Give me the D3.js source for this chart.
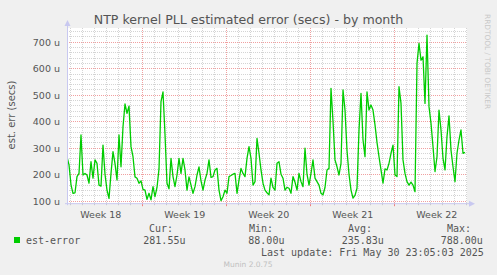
<!DOCTYPE html>
<html><head><meta charset="utf-8">
<script src="https://cdn.jsdelivr.net/npm/d3@7"></script>
<style>
html,body{margin:0;padding:0;background:#f0f0f0;}
svg{display:block;}
</style></head>
<body>
<script>
// ---- data ----
const title = "NTP kernel PLL estimated error (secs) - by month";
const yTitle = "est. err (secs)";
const seriesName = "est-error";
const startTime = new Date(2025, 3, 27, 17, 24);
const spanHours = 800;
const stepHours = 4;
const values = [
266,235,160,128,130,191,203,348,197,203,197,166,247,185,254,241,159,155,310,200,
140,109,203,285,240,178,348,228,379,465,430,457,304,266,190,185,166,175,143,140,
105,128,103,153,115,150,220,474,511,350,166,145,260,191,153,197,260,203,260,216,
140,190,159,128,153,197,228,175,140,178,203,254,188,191,216,222,140,100,115,140,
128,191,195,200,203,128,178,222,203,191,260,304,260,159,172,335,279,216,166,140,
130,122,185,150,140,241,247,200,185,140,150,147,128,191,170,140,203,172,153,298,
200,159,203,254,185,172,159,128,122,150,216,222,524,400,254,228,197,241,518,442,
290,200,140,110,120,147,367,505,330,266,511,442,461,442,386,320,266,216,166,220,
216,241,279,310,197,191,530,467,254,203,172,159,170,159,134,618,694,630,643,467,
725,455,392,304,210,266,442,367,260,216,342,420,291,228,172,279,329,367,279,282];
const yTicks = [100,200,300,400,500,600,700];
const weekLabels = ["Week 18","Week 19","Week 20","Week 21","Week 22"];
const legendHeaders = ["Cur:","Min:","Avg:","Max:"];
const legendValues = ["281.55u","88.00u","235.83u","788.00u"];
const lastUpdate = "Last update: Fri May 30 23:05:03 2025";
const footer = "Munin 2.0.75";
const sideText = "RRDTOOL / TOBI OETIKER";

// ---- layout ----
const W = 497, H = 275;
const L = 67, R = 467, T = 28, B = 203.2;
const HOUR = 3600e3;
const endTime = new Date(+startTime + spanHours*HOUR);

const svg = d3.select("body").append("svg").attr("width", W).attr("height", H);
svg.append("rect").attr("width", W).attr("height", H).attr("fill", "#f0f0f0");

const x = d3.scaleTime().domain([startTime, endTime]).range([L, R]);
const y = d3.scaleLinear().domain([90.6, 751.7]).range([B, T]);

svg.append("rect").attr("x", L).attr("y", T).attr("width", R-L).attr("height", B-T).attr("fill", "#ffffff");

const grid = svg.append("g");
const minorY = d3.range(100, 752, 20).filter(v => v % 100 !== 0);
grid.selectAll(".hmin").data(minorY).join("line")
  .attr("x1", L).attr("x2", R).attr("y1", d => Math.round(y(d))+0.5).attr("y2", d => Math.round(y(d))+0.5)
  .attr("stroke", "#d4d4d4").attr("stroke-width", 1).attr("stroke-dasharray", "1,1");
const days = d3.timeDay.range(startTime, endTime).filter(d => d.getDay() !== 0);
grid.selectAll(".vmin").data(days).join("line")
  .attr("x1", d => Math.round(x(d))+0.5).attr("x2", d => Math.round(x(d))+0.5).attr("y1", T).attr("y2", B)
  .attr("stroke", "#d4d4d4").attr("stroke-width", 1).attr("stroke-dasharray", "1,1");
grid.selectAll(".hmaj").data(yTicks).join("line")
  .attr("x1", L).attr("x2", R).attr("y1", d => Math.round(y(d))+0.5).attr("y2", d => Math.round(y(d))+0.5)
  .attr("stroke", "#f0a0a0").attr("stroke-width", 1).attr("stroke-dasharray", "1,1");
const weeks = d3.timeSunday.range(startTime, endTime);
grid.selectAll(".vmaj").data(weeks).join("line")
  .attr("x1", d => Math.round(x(d))+0.5).attr("x2", d => Math.round(x(d))+0.5).attr("y1", T).attr("y2", B)
  .attr("stroke", "#f0a0a0").attr("stroke-width", 1).attr("stroke-dasharray", "1,1");

grid.selectAll(".dtick").data(days).join("line")
  .attr("x1", d => Math.round(x(d))+0.5).attr("x2", d => Math.round(x(d))+0.5).attr("y1", B).attr("y2", B+2)
  .attr("stroke", "#c8c8c8");
grid.selectAll(".wtick").data(weeks).join("line")
  .attr("x1", d => Math.round(x(d))+0.5).attr("x2", d => Math.round(x(d))+0.5).attr("y1", B).attr("y2", B+3)
  .attr("stroke", "#f08080");

const pts = values.map((v, i) => ({t: new Date(+startTime + i*stepHours*HOUR), v}));
svg.append("clipPath").attr("id", "c").append("rect")
  .attr("x", L).attr("y", T).attr("width", R-L).attr("height", B-T);
svg.append("path").datum(pts).attr("clip-path", "url(#c)")
  .attr("d", d3.line().x(d => x(d.t)).y(d => y(d.v)))
  .attr("fill", "none").attr("stroke", "#00cc00").attr("stroke-width", 1.3).attr("stroke-linejoin", "round");

const axC = "#c8c8f0";
svg.append("line").attr("x1", L+0.5).attr("x2", L+0.5).attr("y1", B+2).attr("y2", T-3).attr("stroke", axC);
svg.append("line").attr("x1", L-2).attr("x2", R+3).attr("y1", B+0.5).attr("y2", B+0.5).attr("stroke", axC);
svg.append("path").attr("d", `M${L-2.5},${T-2} L${L+0.5},${T-8} L${L+3.5},${T-2} Z`).attr("fill", axC);
svg.append("path").attr("d", `M${R+2},${B-2.5} L${R+8},${B+0.5} L${R+2},${B+3.5} Z`).attr("fill", axC);

const sans = "DejaVu Sans, sans-serif";
const mono = "DejaVu Sans Mono, monospace";

const yAxis = d3.axisLeft(y).tickValues(yTicks).tickFormat(d => d + " u").tickSize(0).tickPadding(0);
const gy = svg.append("g").attr("transform", `translate(${L-7},0)`).call(yAxis);
gy.select(".domain").remove();
gy.selectAll("text").attr("font-family", sans).attr("font-size", 9.5).attr("fill", "#555").attr("dy", "0.35em");

const labelDates = weekLabels.map((s, i) => new Date(+d3.timeSunday.floor(startTime) + (i*168 + 84)*HOUR));
const xAxis = d3.axisBottom(x).tickValues(labelDates).tickFormat((d, i) => weekLabels[i]).tickSize(0).tickPadding(0);
const gx = svg.append("g").attr("transform", `translate(0,${B+14.5})`).call(xAxis);
gx.select(".domain").remove();
gx.selectAll("text").attr("font-family", sans).attr("font-size", 9.5).attr("fill", "#555").attr("dy", "0");

svg.append("text").attr("x", 248.5).attr("y", 23.5).attr("text-anchor", "middle")
  .attr("font-family", sans).attr("font-size", 12.6).attr("fill", "#555").text(title);
svg.append("text").attr("transform", "translate(15,115) rotate(-90)").attr("text-anchor", "middle")
  .attr("font-family", sans).attr("font-size", 10).attr("fill", "#555").text(yTitle);
svg.append("text").attr("transform", "translate(485,14) rotate(90)").attr("text-anchor", "start")
  .attr("font-family", sans).attr("font-size", 7.4).attr("fill", "#c8c8c8").text(sideText);

svg.append("rect").attr("x", 14).attr("y", 237).attr("width", 6).attr("height", 6).attr("fill", "#00cc00");
svg.append("text").attr("x", 26).attr("y", 244).attr("font-family", mono).attr("font-size", 10).attr("fill", "#555").text(seriesName);
const hx = [149, 249, 348, 447];
const vx = [143.3, 248.3, 341.7, 440.7];
svg.selectAll(".lh").data(legendHeaders).join("text")
  .attr("x", (d, i) => hx[i]).attr("y", 232).attr("font-family", mono).attr("font-size", 10).attr("fill", "#555").text(d => d);
svg.selectAll(".lv").data(legendValues).join("text")
  .attr("x", (d, i) => vx[i]).attr("y", 244).attr("font-family", mono).attr("font-size", 10).attr("fill", "#555").text(d => d);
svg.append("text").attr("x", 261).attr("y", 256).attr("font-family", mono).attr("font-size", 10).attr("fill", "#555").text(lastUpdate);
svg.append("text").attr("x", 248).attr("y", 267).attr("text-anchor", "middle")
  .attr("font-family", sans).attr("font-size", 7.5).attr("fill", "#c0c0c0").text(footer);
</script>
</body></html>
